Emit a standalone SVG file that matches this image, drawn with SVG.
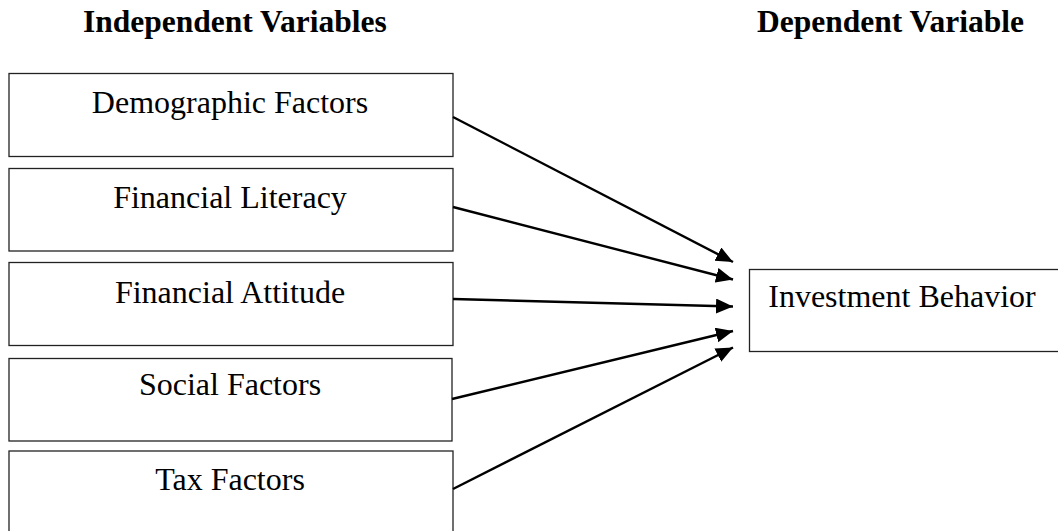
<svg xmlns="http://www.w3.org/2000/svg" width="1058" height="531" viewBox="0 0 1058 531">
<style>
.box{fill:#fff;stroke:#222;stroke-width:1.3}
.hdr{font-family:"Liberation Serif",serif;font-weight:bold;font-size:31.5px;fill:#000}
.lbl{font-family:"Liberation Serif",serif;font-size:32px;fill:#000;text-anchor:middle}
.conn{stroke:#000;stroke-width:2.4;fill:none;marker-end:url(#ah)}
</style>
<defs>
<marker id="ah" markerUnits="userSpaceOnUse" markerWidth="18" markerHeight="16" refX="17" refY="7.5" orient="auto">
<path d="M0,0 L17,7.5 L0,15 z" fill="#000"/>
</marker>
</defs>
<g id="headers">
<text class="hdr" x="83" y="32">Independent Variables</text>
<text class="hdr" x="757" y="32">Dependent Variable</text>
</g>
<g id="n1"><rect class="box" x="9" y="73.5" width="444" height="83"/><text class="lbl" x="230" y="113">Demographic Factors</text></g>
<g id="n2"><rect class="box" x="9" y="168.5" width="444" height="82.5"/><text class="lbl" x="230" y="208">Financial Literacy</text></g>
<g id="n3"><rect class="box" x="9" y="262.5" width="444" height="83"/><text class="lbl" x="230" y="302.5">Financial Attitude</text></g>
<g id="n4"><rect class="box" x="9" y="358.5" width="443" height="82.5"/><text class="lbl" x="230" y="395">Social Factors</text></g>
<g id="n5"><rect class="box" x="9" y="451" width="444" height="90"/><text class="lbl" x="230" y="490">Tax Factors</text></g>
<g id="n6"><rect class="box" x="749.5" y="269.5" width="320" height="82"/><text class="lbl" x="902" y="306.5">Investment Behavior</text></g>
<g id="connectors">
<line class="conn" x1="453" y1="117" x2="733" y2="262"/>
<line class="conn" x1="453" y1="207" x2="733" y2="279.5"/>
<line class="conn" x1="453" y1="299" x2="733" y2="306.5"/>
<line class="conn" x1="452" y1="399" x2="733" y2="331"/>
<line class="conn" x1="453" y1="489" x2="733" y2="347.5"/>
</g>
</svg>
